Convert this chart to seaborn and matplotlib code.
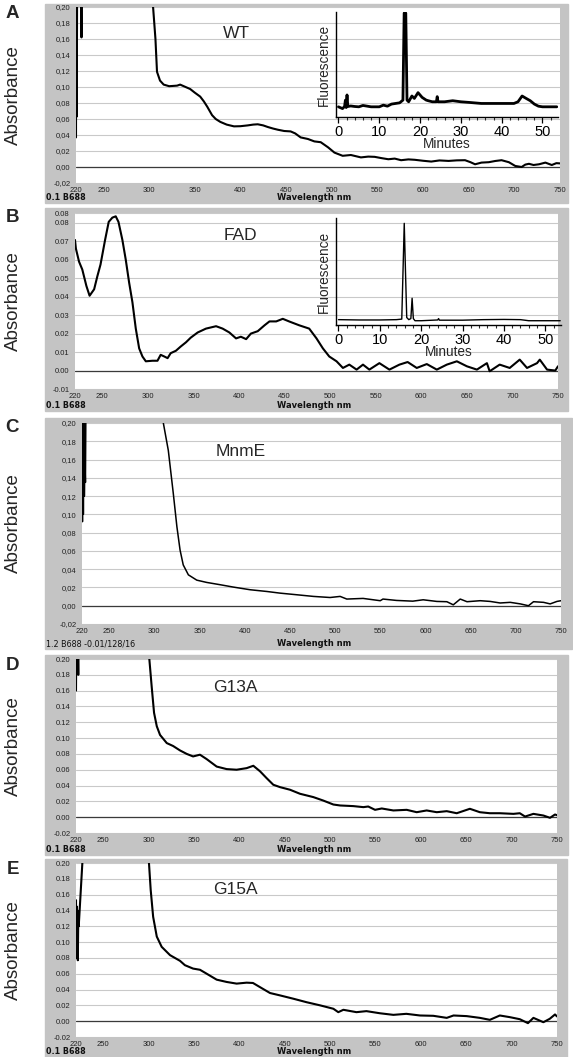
import numpy as np
import pandas as pd
import seaborn as sns
import matplotlib.pyplot as plt
from matplotlib.patches import Rectangle
from matplotlib.ticker import MultipleLocator

# ---- absorbance spectra (wavelength nm, absorbance) ----
wl_wt = [220, 220.3, 220.8, 221.3, 222.5, 225.5, 226, 226.4, 240, 290, 302, 304.4, 307, 308.7, 312,
         316, 322, 330.7, 334, 340, 345, 350, 356, 360, 363.7, 369, 373, 378, 385, 393, 400, 408,
         414, 419, 425, 430, 436, 441, 448, 455, 460, 466, 474, 481, 488, 496, 503, 512, 521, 532,
         540, 547, 555, 562, 569, 576, 584, 591, 600, 609, 618, 628, 637, 646, 652, 657, 664, 672,
         679, 686, 694, 701, 708, 712, 716, 721, 727, 734, 741, 746, 750]
abs_wt = [0.037, 0.26, 0.063, 0.26, 0.30, 0.26, 0.162, 0.30, 0.6, 0.5, 0.26, 0.20, 0.16, 0.119, 0.108,
          0.103, 0.101, 0.1017, 0.103, 0.100, 0.0975, 0.093, 0.088, 0.082, 0.0754, 0.0648, 0.060,
          0.0564, 0.053, 0.0508, 0.051, 0.052, 0.053, 0.0534, 0.052, 0.050, 0.048, 0.0466, 0.045,
          0.0445, 0.042, 0.037, 0.035, 0.032, 0.031, 0.0246, 0.018, 0.014, 0.015, 0.012, 0.013,
          0.0127, 0.011, 0.0097, 0.0105, 0.0085, 0.0095, 0.009, 0.0078, 0.0068, 0.0082, 0.0076,
          0.0083, 0.0085, 0.006, 0.0034, 0.0055, 0.006, 0.0075, 0.0085, 0.006, 0.0013, 0.0, 0.003,
          0.004, 0.0025, 0.0034, 0.0055, 0.0025, 0.0048, 0.0045]

wl_fad = [220, 221, 224.4, 228, 232.5, 236, 241, 244.5, 248, 253, 257, 261, 264.7, 267.7, 272, 275.7,
          279.4, 283, 286.7, 290.4, 294, 297.7, 305, 310.5, 314, 318, 321.6, 325, 330.7, 336, 341.8,
          347, 354.6, 363.7, 374.8, 382, 389.4, 396.7, 402, 407.8, 413, 420.5, 428, 433.4, 440.8,
          448, 455.4, 466, 477, 485, 492, 499, 507, 514, 521, 529, 536, 543, 554, 565, 576, 585,
          595, 606, 617, 628, 639, 650, 661, 672, 675, 686, 697, 708, 716, 727, 730, 738, 747, 750]
abs_fad = [0.0707, 0.066, 0.059, 0.0547, 0.0458, 0.0405, 0.044, 0.051, 0.0574, 0.0707, 0.0805, 0.0828,
           0.0835, 0.0805, 0.0707, 0.060, 0.0476, 0.037, 0.0227, 0.012, 0.0076, 0.005, 0.0053,
           0.0053, 0.0085, 0.0076, 0.0067, 0.0094, 0.0107, 0.013, 0.0153, 0.0178, 0.0206, 0.0227,
           0.024, 0.0227, 0.0206, 0.0174, 0.0183, 0.017, 0.020, 0.0213, 0.0245, 0.0266, 0.0266,
           0.028, 0.0265, 0.0245, 0.0227, 0.0174, 0.012, 0.0076, 0.005, 0.0014, 0.0032, 0.0005,
           0.0032, 0.0005, 0.004, 0.0005, 0.0032, 0.0046, 0.0014, 0.0035, 0.0005, 0.0032, 0.005,
           0.0023, 0.0005, 0.004, -0.0004, 0.0032, 0.0014, 0.0059, 0.0014, 0.004, 0.0059, 0.0005,
           0.0, 0.0023]

wl_mnme = [220, 220.5, 221, 221.5, 222, 222.6, 223.2, 223.8, 224.5, 226, 300, 310, 315.5, 321, 325,
           328.5, 332, 337.7, 347, 358, 372.8, 387.5, 406, 424.5, 439, 457.7, 476, 494.5, 505.6,
           513, 531, 550, 553, 568, 586, 597.5, 612.6, 623.7, 630.8, 638.5, 646, 660.6, 671.7,
           682.7, 693.8, 705, 714, 719.6, 730.7, 738, 745.5, 750]
abs_mnme = [0.25, 0.092, 0.25, 0.10, 0.22, 0.12, 0.16, 0.135, 0.25, 0.4, 0.5, 0.20, 0.17, 0.123,
            0.0865, 0.061, 0.0447, 0.0338, 0.028, 0.0255, 0.023, 0.0204, 0.0175, 0.0156, 0.0138,
            0.012, 0.0102, 0.009, 0.0102, 0.0073, 0.008, 0.0055, 0.0073, 0.0058, 0.005, 0.0065,
            0.0047, 0.0044, 0.001, 0.0073, 0.0044, 0.0055, 0.0047, 0.003, 0.0037, 0.002, 0.0,
            0.0044, 0.0037, 0.002, 0.0047, 0.0055]

wl_g13a = [220, 220.5, 221, 221.5, 222.5, 223, 224, 290, 299, 300.8, 303.4, 306, 309, 312.6, 320, 327,
           334.6, 342, 349, 356.6, 364, 375, 386, 397, 408, 415.4, 422.8, 430, 437.4, 444.8, 455.8,
           466.8, 481.5, 492.5, 503.6, 511, 525.6, 536.6, 542, 549.5, 556.9, 569.7, 584.4, 595.4,
           606.4, 617.5, 628.5, 639.5, 654, 665, 676, 687, 702, 709, 714.8, 724, 735, 742.3, 747.8, 750]
abs_g13a = [0.16, 0.25, 0.19, 0.25, 0.18, 0.25, 0.3, 0.5, 0.25, 0.20, 0.165, 0.132, 0.115, 0.104,
            0.0937, 0.090, 0.0844, 0.080, 0.0768, 0.079, 0.0734, 0.064, 0.0608, 0.060, 0.062, 0.065,
            0.058, 0.0494, 0.041, 0.038, 0.0347, 0.0296, 0.0254, 0.021, 0.016, 0.0148, 0.014,
            0.0127, 0.0135, 0.0093, 0.011, 0.0085, 0.0093, 0.0063, 0.0085, 0.0063, 0.0076, 0.005,
            0.0106, 0.0063, 0.005, 0.005, 0.0042, 0.005, 0.0008, 0.0042, 0.0021, -0.0008, 0.0034, 0.0025]

wl_g15a = [220, 220.4, 220.8, 221.2, 221.6, 222, 222.5, 223, 225, 227, 228, 290, 299, 300.4, 302.3, 305,
           309, 314.4, 323.6, 334.6, 340, 349, 356.6, 364, 375, 386, 397, 408, 415, 422.8, 433.8,
           444.8, 459.5, 474, 489, 503.6, 509, 514.6, 529, 540, 555, 569.7, 584, 599, 613.7, 628.5,
           636, 650.5, 665, 676, 687, 698, 709, 718, 724, 735, 742, 747.8, 750]
abs_g15a = [0.153, 0.09, 0.145, 0.08, 0.14, 0.077, 0.13, 0.12, 0.16, 0.20, 0.26, 0.5, 0.25, 0.20, 0.166,
            0.132, 0.107, 0.094, 0.0835, 0.0763, 0.0708, 0.0665, 0.065, 0.060, 0.0525, 0.0496,
            0.0475, 0.0487, 0.0483, 0.043, 0.0356, 0.0326, 0.0284, 0.024, 0.020, 0.0157, 0.0114,
            0.0144, 0.0114, 0.0127, 0.010, 0.008, 0.0093, 0.0072, 0.0068, 0.0042, 0.0072, 0.0064,
            0.0042, 0.0017, 0.0072, 0.0051, 0.0025, -0.0025, 0.0042, -0.0013, 0.003, 0.0085, 0.006]

# ---- HPLC insets (minutes, relative fluorescence) ----
t_wt = [0, 1.0, 1.5, 1.7, 1.9, 2.1, 2.3, 3, 4, 5, 6, 8, 10, 11, 12, 13, 14, 15, 15.8, 16.1, 16.5,
        16.8, 17.2, 18, 18.6, 19.5, 20.5, 21.5, 22, 23, 24, 24.2, 24.4, 26, 28, 30, 32, 35, 40, 43,
        44, 45, 46, 47, 48, 49, 50, 52, 53.5]
fl_wt = [0.097, 0.08, 0.10, 0.16, 0.09, 0.21, 0.10, 0.105, 0.10, 0.097, 0.11, 0.097, 0.097, 0.113,
         0.103, 0.123, 0.129, 0.135, 0.161, 0.99, 0.99, 0.161, 0.145, 0.20, 0.177, 0.232, 0.187,
         0.161, 0.155, 0.145, 0.145, 0.194, 0.145, 0.145, 0.155, 0.145, 0.139, 0.129, 0.129, 0.129,
         0.145, 0.20, 0.177, 0.155, 0.123, 0.103, 0.097, 0.097, 0.097]
t_fad = [0, 5, 10, 14, 15.3, 15.6, 15.9, 16.2, 16.5, 17, 17.5, 17.8, 18.1, 18.5, 20, 24, 24.2, 24.4,
         30, 35, 40, 44, 46, 50, 53.6]
fl_fad = [0.05, 0.047, 0.047, 0.05, 0.055, 0.5, 0.95, 0.5, 0.07, 0.05, 0.06, 0.25, 0.06, 0.04, 0.04,
          0.047, 0.06, 0.045, 0.045, 0.05, 0.052, 0.05, 0.04, 0.04, 0.04]

xticks_nm = [220, 250, 300, 350, 400, 450, 500, 550, 600, 650, 700, 750]
yt_02 = [-0.02, 0.0, 0.02, 0.04, 0.06, 0.08, 0.10, 0.12, 0.14, 0.16, 0.18, 0.20]
yl_dot = ["-0.02", "0.00", "0.02", "0.04", "0.06", "0.08", "0.10", "0.12", "0.14", "0.16", "0.18", "0.20"]
yl_comma = [s.replace(".", ",") for s in yl_dot]
yt_fad = [-0.01, 0.0, 0.01, 0.02, 0.03, 0.04, 0.05, 0.06, 0.07, 0.08, 0.0853]
yl_fad = ["-0.01", "0.00", "0.01", "0.02", "0.03", "0.04", "0.05", "0.06", "0.07", "0.08", "0.08"]

W, H = 573, 1057
sns.set_style("white")
plt.rcParams['font.family'] = ['Liberation Sans', 'DejaVu Sans']

fig = plt.figure(figsize=(W / 100, H / 100), dpi=100)
GRAY = '#c4c4c4'


def box(x0, y0, x1, y1):
    # pixel box (top-left origin) -> figure fraction
    return [x0 / W, 1 - y1 / H, (x1 - x0) / W, (y1 - y0) / H]


def ftext(x, y, s, **kw):
    fig.text(x / W, 1 - y / H, s, **kw)


def spectrum(frame, plot, wl, ab, yt, yl, ylim, lw, name, name_xy, letter, foot, foot_bold):
    fx0, fy0, fx1, fy1 = frame
    fig.add_artist(Rectangle((fx0 / W, 1 - fy1 / H), (fx1 - fx0) / W, (fy1 - fy0) / H,
                             transform=fig.transFigure, color=GRAY, zorder=-5))
    ax = fig.add_axes(box(*plot), facecolor='white')
    sns.lineplot(x=wl, y=ab, ax=ax, color='black', lw=lw, sort=False, estimator=None)
    ax.set_xlim(220, 750)
    ax.set_ylim(*ylim)
    ax.set_xticks(xticks_nm, [str(v) for v in xticks_nm])
    ax.set_yticks(yt, yl)
    ax.grid(axis='y', color='#c9c9c9', lw=0.8)
    ax.grid(axis='x', visible=False)
    ax.set_axisbelow(True)
    ax.axhline(0, color='#3a3a3a', lw=0.9, zorder=1)
    for s in ax.spines.values():
        s.set_visible(False)
    ax.tick_params(axis='both', labelsize=5.5, colors='#222222', length=3, width=0.6, pad=1)
    ax.tick_params(axis='x', length=2)
    ax.set_xlabel('')
    ax.set_ylabel('')
    # labels around the panel
    ftext(name_xy[0], name_xy[1], name, fontsize=12.5, ha='center', va='center')
    py = (plot[1] + plot[3]) / 2
    ftext(13.5, py, 'Absorbance', fontsize=13.5, rotation=90, ha='center', va='center')
    ftext(12.5, fy0 + 10, letter, fontsize=13.5, fontweight='bold', ha='center', va='center')
    ftext(46, fy1 - 5, foot, fontsize=5.8, family='DejaVu Sans',
          fontweight='bold' if foot_bold else 'normal', ha='left', va='center', color='#111111')
    ftext(277, fy1 - 6, 'Wavelength nm', fontsize=6, family='DejaVu Sans', fontweight='bold',
          ha='left', va='center', color='#111111')
    return ax


def inset(plot, t, fl, lw):
    ax = fig.add_axes(box(*plot))
    ax.patch.set_alpha(0)
    sns.lineplot(x=t, y=fl, ax=ax, color='black', lw=lw, sort=False, estimator=None)
    ax.set_xlim(-0.6, 53.8)
    ax.set_ylim(0, 1)
    ax.set_yticks([])
    ax.xaxis.set_major_locator(MultipleLocator(10))
    ax.xaxis.set_minor_locator(MultipleLocator(2))
    ax.spines['top'].set_visible(False)
    ax.spines['right'].set_visible(False)
    for s in ['left', 'bottom']:
        ax.spines[s].set_color('black')
        ax.spines[s].set_linewidth(1)
    ax.tick_params(axis='x', which='major', direction='out', length=4, width=0.9,
                   labelsize=10.5, pad=1.5, bottom=True, colors='black')
    ax.tick_params(axis='x', which='minor', direction='out', length=2.5, width=0.8, bottom=True)
    ax.set_xlabel('Minutes', fontsize=9.8, labelpad=-1)
    ax.set_ylabel('Fluorescence', fontsize=9.8, labelpad=4)
    return ax


spectrum((45, 4, 568, 203), (76, 7, 560, 183), wl_wt, abs_wt, yt_02, yl_comma, (-0.02, 0.20), 1.5,
         'WT', (236, 34), 'A', '0.1 B688', True)
inset((336, 12, 558, 117), t_wt, fl_wt, 2.0)

spectrum((45, 208, 568, 411), (75, 213, 558, 389), wl_fad, abs_fad, yt_fad, yl_fad, (-0.01, 0.0853), 1.5,
         'FAD', (240, 235), 'B', '0.1 B688', True)
inset((336, 218, 561, 325), t_fad, fl_fad, 1.0)

spectrum((45, 418, 572, 649), (82, 423, 561, 624), wl_mnme, abs_mnme, yt_02, yl_comma, (-0.02, 0.20), 1.1,
         'MnmE', (241, 451), 'C', '1.2 B688 -0.01/128/16', False)

spectrum((45, 655, 568, 855), (76, 659, 557, 833), wl_g13a, abs_g13a, yt_02, yl_dot, (-0.02, 0.20), 1.5,
         'G13A', (235, 688), 'D', '0.1 B688', True)

spectrum((45, 859, 567, 1057), (76, 863, 557, 1037), wl_g15a, abs_g15a, yt_02, yl_dot, (-0.02, 0.20), 1.5,
         'G15A', (235, 890), 'E', '0.1 B688', True)

fig.savefig('out.png', dpi=100, facecolor='white')
